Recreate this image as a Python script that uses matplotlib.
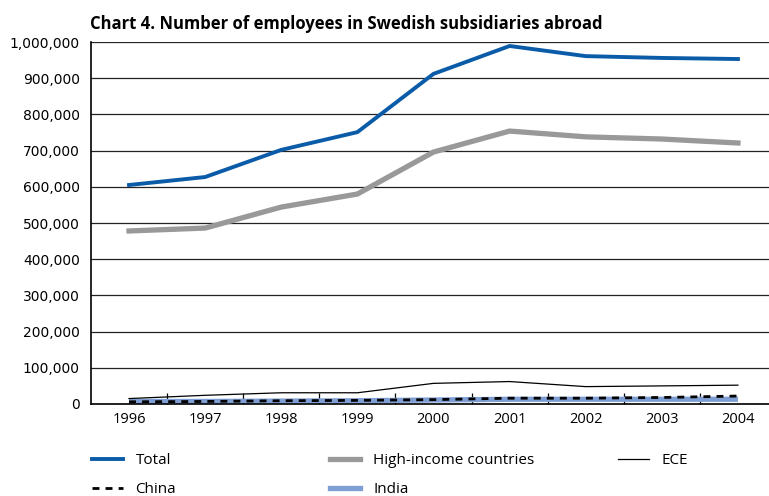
import numpy as np
import matplotlib
matplotlib.use('Agg')
import matplotlib.pyplot as plt
from matplotlib.lines import Line2D
from matplotlib.ticker import FuncFormatter

years = ['1996', '1997', '1998', '1999', '2000', '2001', '2002', '2003', '2004']
total = [605000, 627000, 702000, 751000, 912000, 989000, 961000, 956000, 953000]
high_income = [478000, 486000, 544000, 580000, 696000, 754000, 738000, 732000, 721000]
ece = [15000, 24000, 31000, 31000, 57000, 62000, 48000, 50000, 52000]
china = [6000, 7000, 9000, 10000, 12000, 16000, 16000, 18000, 22000]
india = [7000, 7000, 8000, 9000, 11000, 13000, 13000, 13000, 13000]

plt.rcParams['font.family'] = ['Open Sans', 'DejaVu Sans']

fig = plt.figure(figsize=(7.69, 4.96), dpi=100)
ax = fig.add_axes([0.1183, 0.1855, 0.8908, 0.7298])

x = np.arange(len(years))

ax.plot(x, india, color='#7f9fd4', lw=3.8, solid_capstyle='butt', label='India')
ax.plot(x, china, color='black', lw=2.0, ls=(0, (2.5, 2.2)), label='China')
ax.plot(x, ece, color='black', lw=0.9, label='ECE')
ax.plot(x, high_income, color='#999999', lw=3.8, label='High-income countries')
ax.plot(x, total, color='#0b5ca8', lw=2.8, label='Total')

ax.set_xlim(-0.5, 8.5)
ax.set_ylim(0, 1000000)
ax.set_yticks(np.arange(0, 1000001, 100000))
ax.yaxis.set_major_formatter(FuncFormatter(lambda v, p: f'{int(v):,}'))
ax.grid(axis='y', color='#222222', lw=0.9)
ax.set_axisbelow(True)

ax.set_xticks(x)
ax.set_xticklabels(years)
ax.set_xticks(np.arange(0.5, 8, 1), minor=True)
ax.tick_params(axis='x', which='major', length=0, pad=6, labelsize=10.5)
ax.tick_params(axis='x', which='minor', direction='in', length=8, width=0.9)
ax.tick_params(axis='y', length=0, pad=8)
for lab in ax.get_yticklabels():
    lab.set_fontfamily('DejaVu Sans')
    lab.set_fontsize(10)

for s in ['top', 'right']:
    ax.spines[s].set_visible(False)
ax.spines['left'].set_linewidth(1.2)
ax.spines['bottom'].set_linewidth(1.2)

fig.text(0.117, 0.952, 'Chart 4. Number of employees in Swedish subsidiaries abroad',
         fontsize=12, fontweight='bold', ha='left', va='center')

# legend, three columns placed by hand
def h(color, lw, ls='-'):
    return Line2D([0], [0], color=color, lw=lw, ls=ls)

cols = [
    (0.1196, [h('#0b5ca8', 2.8), h('black', 2.0, (0, (2.5, 2.2)))], ['Total', 'China']),
    (0.429, [h('#999999', 3.8), h('#7f9fd4', 3.8)], ['High-income countries', 'India']),
    (0.804, [h('black', 0.9)], ['ECE']),
]
for xpos, hs, ls in cols:
    fig.legend(hs, ls, loc='upper left', bbox_to_anchor=(xpos, 0.086), frameon=False,
               fontsize=11, handlelength=2.0, handletextpad=0.85, labelspacing=0.9,
               borderaxespad=0, borderpad=0)

fig.savefig('out.png', dpi=100)
